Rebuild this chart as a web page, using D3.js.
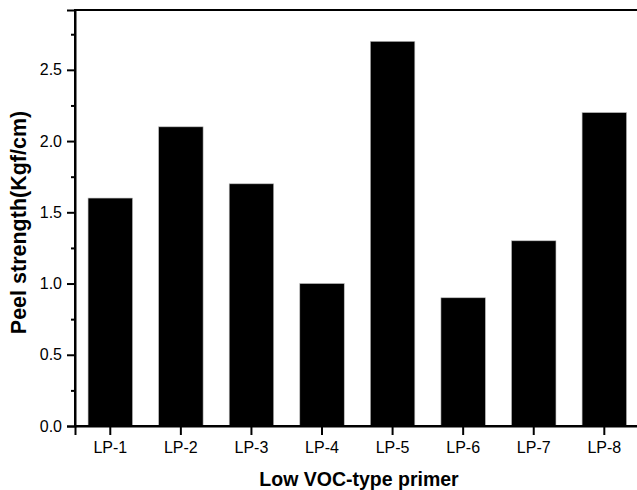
<!DOCTYPE html>
<html>
<head>
<meta charset="utf-8">
<script src="https://cdn.jsdelivr.net/npm/d3@7"></script>
<style>
  html, body { margin: 0; padding: 0; background: #fff; }
  svg { display: block; font-family: "Liberation Sans", Arial, sans-serif; }
</style>
</head>
<body>
<svg id="chart" width="637" height="490"></svg>
<script>
// Peel strength of the low-VOC primers
const primers = ["LP-1", "LP-2", "LP-3", "LP-4", "LP-5", "LP-6", "LP-7", "LP-8"];
const peelStrength = [1.6, 2.1, 1.7, 1.0, 2.7, 0.9, 1.3, 2.2];
const yTicks = [0, 0.5, 1.0, 1.5, 2.0, 2.5];
const yMinorTicks = [0.25, 0.75, 1.25, 1.75, 2.25, 2.75];

const svg = d3.select("#chart");
const plotLeft = 75, plotTop = 10, plotBottom = 426, plotRight = 639.6;

const x = d3.scaleBand()
  .domain(primers)
  .range([plotLeft, plotRight])
  .paddingInner(0.37)
  .paddingOuter(0.185);

const y = d3.scaleLinear().domain([0, 2.92]).range([plotBottom, plotTop]);

// bars
svg.append("g")
  .selectAll("rect")
  .data(primers)
  .join("rect")
  .attr("x", d => x(d))
  .attr("width", x.bandwidth())
  .attr("y", (d, i) => y(peelStrength[i]))
  .attr("height", (d, i) => y(0) - y(peelStrength[i]))
  .attr("fill", "#000")
  .attr("stroke", "#bbb")
  .attr("stroke-width", 0.6);

// frame
svg.append("rect")
  .attr("x", plotLeft).attr("y", plotTop)
  .attr("width", plotRight - plotLeft).attr("height", plotBottom - plotTop)
  .attr("fill", "none").attr("stroke", "#000").attr("stroke-width", 2);

// y axis major ticks
const yAxis = svg.append("g")
  .attr("transform", `translate(${plotLeft},0)`)
  .call(d3.axisLeft(y).tickValues(yTicks).tickFormat(d3.format(".1f")).tickSize(8).tickPadding(5));
yAxis.select(".domain").attr("stroke-width", 2);
yAxis.selectAll(".tick line").attr("stroke-width", 2);
yAxis.selectAll("text").attr("font-size", 16).attr("fill", "#000")
  .attr("font-family", "Liberation Sans, Arial, sans-serif");

// y axis minor ticks
const yMinor = svg.append("g")
  .attr("transform", `translate(${plotLeft},0)`)
  .call(d3.axisLeft(y).tickValues(yMinorTicks).tickFormat("").tickSize(4));
yMinor.select(".domain").remove();
yMinor.selectAll(".tick line").attr("stroke-width", 2);

// x axis
const xAxis = svg.append("g")
  .attr("transform", `translate(0,${plotBottom})`)
  .call(d3.axisBottom(x).tickSize(9).tickPadding(7));
xAxis.select(".domain").attr("stroke-width", 2);
xAxis.selectAll(".tick line").attr("stroke-width", 2);
xAxis.selectAll("text").attr("font-size", 16).attr("fill", "#000")
  .attr("font-family", "Liberation Sans, Arial, sans-serif");

// axis titles
svg.append("text")
  .attr("x", 359).attr("y", 486)
  .attr("text-anchor", "middle")
  .attr("font-size", 19.5).attr("font-weight", "bold")
  .text("Low VOC-type primer");

svg.append("text")
  .attr("transform", "translate(26,222.5) rotate(-90)")
  .attr("text-anchor", "middle")
  .attr("font-size", 21.5).attr("font-weight", "bold")
  .text("Peel strength(Kgf/cm)");
</script>
</body>
</html>
